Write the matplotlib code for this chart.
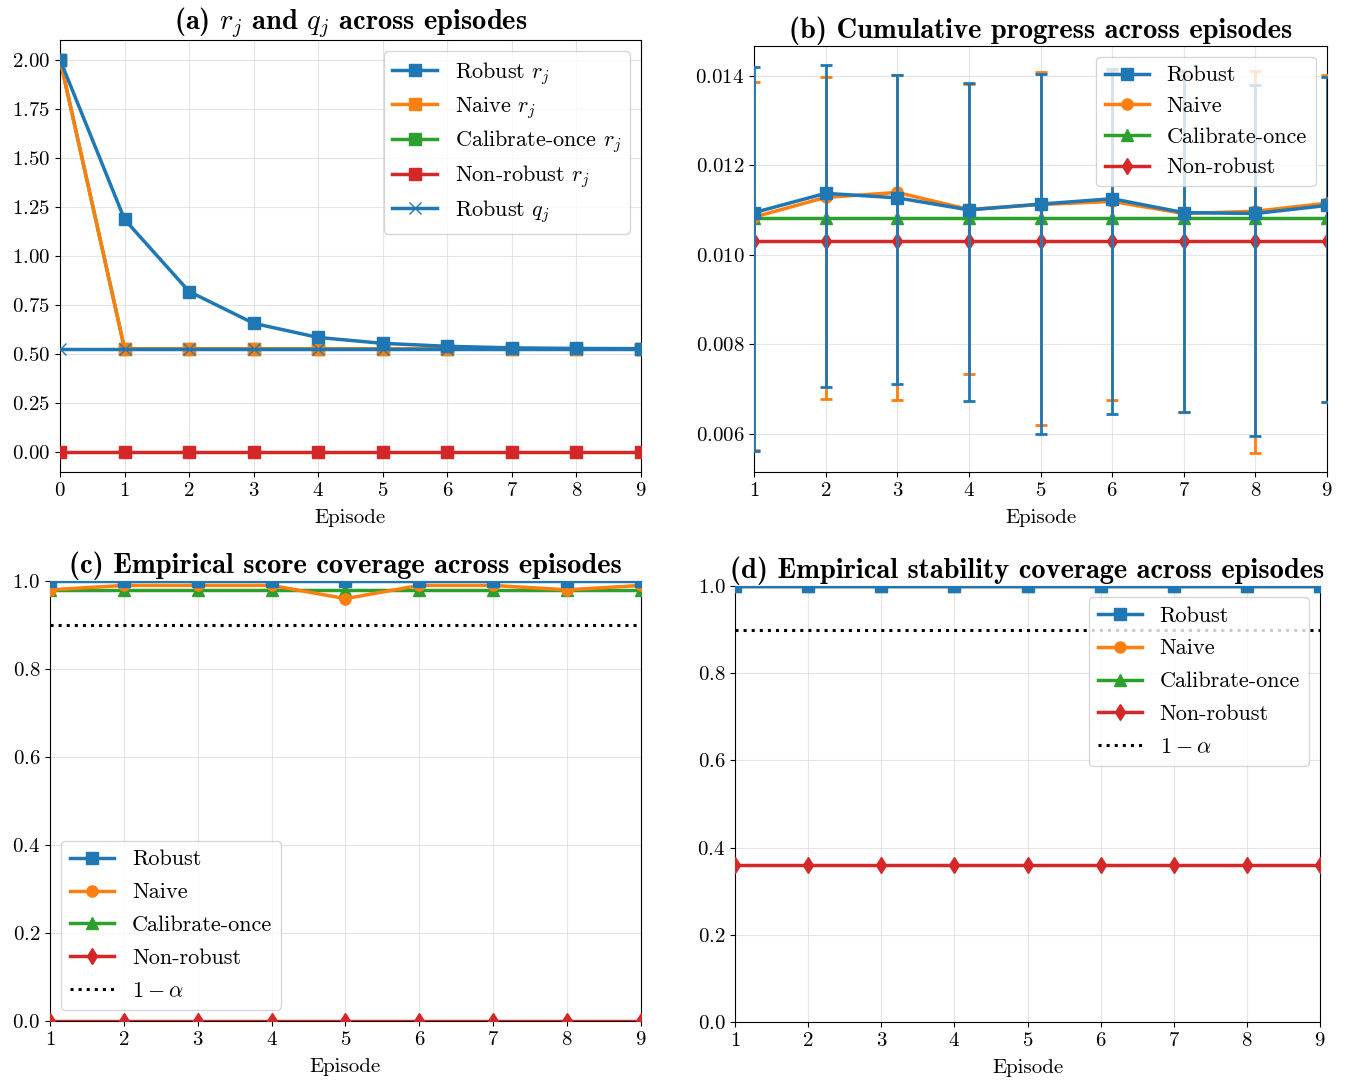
import numpy as np
import matplotlib
matplotlib.use("Agg")
import matplotlib.pyplot as plt
from matplotlib.lines import Line2D

plt.rcParams.update({
    "font.family": "serif",
    "font.serif": ["cmr10"],
    "mathtext.fontset": "cm",
    "axes.formatter.use_mathtext": True,
    "axes.unicode_minus": True,
    "font.size": 15,
    "xtick.labelsize": 15,
    "ytick.labelsize": 15,
    "legend.fontsize": 16,
    "axes.labelsize": 15,
})

# ---------------- data ----------------
episodes_a = [0, 1, 2, 3, 4, 5, 6, 7, 8, 9]
robust_r = [2.00, 1.186, 0.819, 0.657, 0.585, 0.555, 0.540, 0.532, 0.529, 0.528]
naive_r = [2.00, 0.527, 0.527, 0.527, 0.527, 0.527, 0.527, 0.527, 0.527, 0.527]
calib_once_r = [2.00, 0.527, 0.527, 0.527, 0.527, 0.527, 0.527, 0.527, 0.527, 0.527]
nonrobust_r = [0.0, 0.0, 0.0, 0.0, 0.0, 0.0, 0.0, 0.0, 0.0, 0.0]
robust_q = [0.527, 0.527, 0.527, 0.527, 0.527, 0.527, 0.527, 0.527, 0.527, 0.527]

episodes = [1, 2, 3, 4, 5, 6, 7, 8, 9]

# cumulative progress: mean with lower / upper band
prog_robust = [0.01094, 0.01137, 0.01127, 0.01100, 0.01113, 0.01125, 0.01094, 0.01092, 0.01110]
prog_robust_lo = [0.00562, 0.00704, 0.00711, 0.00673, 0.00600, 0.00645, 0.00649, 0.00595, 0.00672]
prog_robust_hi = [0.01419, 0.01423, 0.01402, 0.01383, 0.01404, 0.01415, 0.01410, 0.01378, 0.01396]
prog_naive = [0.01084, 0.01128, 0.01139, 0.01101, 0.01112, 0.01119, 0.01092, 0.01097, 0.01115]
prog_naive_lo = [0.00564, 0.00678, 0.00675, 0.00734, 0.00619, 0.00675, 0.00648, 0.00558, 0.00672]
prog_naive_hi = [0.01386, 0.01396, 0.01402, 0.01381, 0.01409, 0.01410, 0.01400, 0.01410, 0.01401]
prog_calib_once = [0.01081] * 9
prog_nonrobust = [0.01031] * 9

# empirical score coverage
score_robust = [1.0, 1.0, 1.0, 1.0, 1.0, 1.0, 1.0, 1.0, 1.0]
score_naive = [0.98, 0.99, 0.99, 0.99, 0.96, 0.99, 0.99, 0.98, 0.99]
score_calib_once = [0.98, 0.98, 0.98, 0.98, 0.98, 0.98, 0.98, 0.98, 0.98]
score_nonrobust = [0.0, 0.0, 0.0, 0.0, 0.0, 0.0, 0.0, 0.0, 0.0]

# empirical stability coverage
stab_robust = [1.0] * 9
stab_naive = [1.0] * 9
stab_calib_once = [1.0] * 9
stab_nonrobust = [0.36] * 9

target = 0.9  # 1 - alpha

C_BLUE, C_ORANGE, C_GREEN, C_RED = "tab:blue", "tab:orange", "tab:green", "tab:red"
LW, MS = 2.5, 8

fig = plt.figure(figsize=(13.46, 10.83), dpi=100)
ax_a = fig.add_axes([0.0446, 0.5642, 0.4316, 0.3989])
ax_b = fig.add_axes([0.5602, 0.5642, 0.4257, 0.3934])
ax_c = fig.add_axes([0.0371, 0.0572, 0.4391, 0.4063])
ax_d = fig.add_axes([0.5461, 0.0563, 0.4346, 0.4026])

title_kw = dict(fontfamily="cmb10", fontsize=20.5, pad=6)


def style(ax):
    ax.grid(True, color="0.85", linewidth=0.8, alpha=0.7)
    ax.set_axisbelow(True)
    ax.set_xlabel("Episode", labelpad=7)


# (a) r_j and q_j
h1, = ax_a.plot(episodes_a, robust_r, "-s", color=C_BLUE, lw=LW, ms=MS, zorder=4, label=r"Robust $r_j$")
h2, = ax_a.plot(episodes_a, naive_r, "-s", color=C_ORANGE, lw=LW, ms=MS, zorder=3, label=r"Naive $r_j$")
h3, = ax_a.plot(episodes_a, calib_once_r, "-s", color=C_GREEN, lw=LW, ms=MS, zorder=2, label=r"Calibrate-once $r_j$")
h4, = ax_a.plot(episodes_a, nonrobust_r, "-s", color=C_RED, lw=LW, ms=MS, zorder=5, label=r"Non-robust $r_j$")
h5, = ax_a.plot(episodes_a, robust_q, "-x", color=C_BLUE, lw=LW, ms=MS, zorder=6, label=r"Robust $q_j$")
ax_a.set_xlim(0, 9)
ax_a.set_xticks(episodes_a)
ax_a.set_title(r"(a) $r_j$ and $q_j$ across episodes", **title_kw)
ax_a.legend(handles=[h1, h2, h3, h4, h5], loc="upper right", labelspacing=0.35)
style(ax_a)

# (b) cumulative progress
x = np.array(episodes)
rb = np.array(prog_robust)
nv = np.array(prog_naive)
ax_b.errorbar(x, nv, yerr=[nv - np.array(prog_naive_lo), np.array(prog_naive_hi) - nv],
              fmt="-o", color=C_ORANGE, lw=LW, ms=MS, elinewidth=2, capsize=4, capthick=2,
              zorder=3)
ax_b.errorbar(x, rb, yerr=[rb - np.array(prog_robust_lo), np.array(prog_robust_hi) - rb],
              fmt="-s", color=C_BLUE, lw=LW, ms=MS, elinewidth=2, capsize=4, capthick=2,
              zorder=4)
ax_b.plot(x, prog_calib_once, "-^", color=C_GREEN, lw=LW, ms=MS, zorder=2)
ax_b.plot(x, prog_nonrobust, "-d", color=C_RED, lw=LW, ms=MS, zorder=2)
proxies = [
    Line2D([], [], color=C_BLUE, marker="s", lw=LW, ms=MS),
    Line2D([], [], color=C_ORANGE, marker="o", lw=LW, ms=MS),
    Line2D([], [], color=C_GREEN, marker="^", lw=LW, ms=MS),
    Line2D([], [], color=C_RED, marker="d", lw=LW, ms=MS),
]
ax_b.legend(proxies, ["Robust", "Naive", "Calibrate-once", "Non-robust"], loc="upper right")
ax_b.set_xlim(1, 9)
ax_b.set_xticks(episodes)
ax_b.set_yticks([0.006, 0.008, 0.010, 0.012, 0.014])
ax_b.set_title("(b) Cumulative progress across episodes", **title_kw)
style(ax_b)


def coverage(ax, robust, naive, calib, nonrob, title, loc):
    ax.plot(episodes, robust, "-s", color=C_BLUE, lw=LW, ms=MS, label="Robust", zorder=5)
    ax.plot(episodes, naive, "-o", color=C_ORANGE, lw=LW, ms=MS, label="Naive", zorder=4)
    ax.plot(episodes, calib, "-^", color=C_GREEN, lw=LW, ms=MS, label="Calibrate-once", zorder=3)
    ax.plot(episodes, nonrob, "-d", color=C_RED, lw=LW, ms=MS, label="Non-robust", zorder=3)
    ax.axhline(target, color="black", ls=":", lw=2.2, label=r"$1-\alpha$", zorder=2)
    ax.set_xlim(1, 9)
    ax.set_ylim(0, 1.0)
    ax.set_xticks(episodes)
    ax.set_yticks([0.0, 0.2, 0.4, 0.6, 0.8, 1.0])
    ax.set_title(title, **title_kw)
    ax.legend(loc=loc, labelspacing=0.6)
    style(ax)


coverage(ax_c, score_robust, score_naive, score_calib_once, score_nonrobust,
         "(c) Empirical score coverage across episodes", "lower left")
coverage(ax_d, stab_robust, stab_naive, stab_calib_once, stab_nonrobust,
         "(d) Empirical stability coverage across episodes", "upper right")

fig.savefig("out.png", dpi=100)
